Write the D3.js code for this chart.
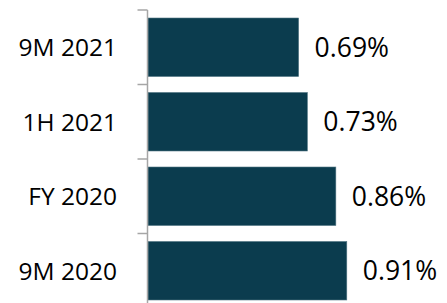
<!DOCTYPE html>
<html>
<head>
<meta charset="utf-8">
<script src="https://cdn.jsdelivr.net/npm/d3@7"></script>
<style>
  body { margin: 0; background: #fff; }
  text { font-family: "Open Sans", "Noto Sans", sans-serif; fill: #000; }
</style>
</head>
<body>
<script>
var categories = ["9M 2021", "1H 2021", "FY 2020", "9M 2020"];
var values = [0.69, 0.73, 0.86, 0.91];
var valueLabels = ["0.69%", "0.73%", "0.86%", "0.91%"];

var width = 447;
var height = 303;
var axisX = 147.5;
var pad = 0.215;

var svg = d3.select("body")
  .append("svg")
  .attr("width", width)
  .attr("height", height);

var x = d3.scaleLinear()
  .domain([0, 1])
  .range([axisX, axisX + 219]);

var y = d3.scaleBand()
  .domain(categories)
  .range([10, 308])
  .paddingInner(pad)
  .paddingOuter(pad / 2);

svg.selectAll("rect")
  .data(values)
  .enter()
  .append("rect")
  .attr("x", axisX + 0.5)
  .attr("y", function(d, i) { return y(categories[i]); })
  .attr("width", function(d) { return x(d) - axisX - 0.5; })
  .attr("height", y.bandwidth())
  .attr("fill", "#0b3c4e")
  .attr("stroke", "#4f7482")
  .attr("stroke-width", 0.6);

// value labels
svg.selectAll("text.val")
  .data(values)
  .enter()
  .append("text")
  .attr("class", "val")
  .attr("x", function(d) { return x(d) + 16; })
  .attr("y", function(d, i) { return y(categories[i]) + y.bandwidth() / 2; })
  .attr("dy", "0.36em")
  .style("font-size", "26.5px")
  .text(function(d, i) { return valueLabels[i]; });

// category labels
svg.selectAll("text.cat")
  .data(categories)
  .enter()
  .append("text")
  .attr("class", "cat")
  .attr("x", 117)
  .attr("y", function(d) { return y(d) + y.bandwidth() / 2; })
  .attr("dy", "0.36em")
  .attr("text-anchor", "end")
  .style("font-size", "24.5px")
  .text(function(d) { return d; });

// axis line and boundary ticks
var boundaries = d3.range(categories.length + 1).map(function(i) {
  return y.range()[0] + i * y.step();
});

svg.append("line")
  .attr("x1", axisX).attr("x2", axisX)
  .attr("y1", boundaries[0]).attr("y2", height)
  .attr("stroke", "#a6a6a6")
  .attr("stroke-width", 1.5);

svg.selectAll("line.tick")
  .data(boundaries.slice(0, categories.length))
  .enter()
  .append("line")
  .attr("class", "tick")
  .attr("x1", axisX - 10).attr("x2", axisX)
  .attr("y1", function(d) { return d; })
  .attr("y2", function(d) { return d; })
  .attr("stroke", "#a6a6a6")
  .attr("stroke-width", 1.5);
</script>
</body>
</html>
